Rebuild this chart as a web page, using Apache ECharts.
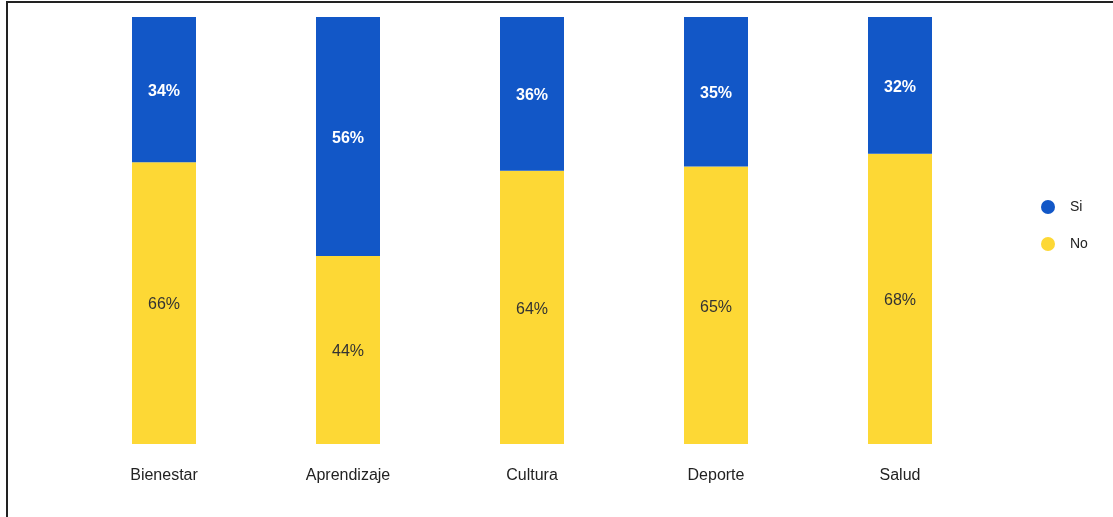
<!DOCTYPE html>
<html>
<head>
<meta charset="utf-8">
<script src="https://cdn.jsdelivr.net/npm/echarts@6/dist/echarts.min.js"></script>
<style>
    html, body { margin: 0; padding: 0; background: #fff; overflow: hidden; }
    #frame {
        position: absolute; left: 6px; top: 1px; width: 1200px; height: 600px;
        border: 2px solid #222; box-sizing: border-box;
    }
    #chart { position: absolute; left: 0; top: 0; width: 1113px; height: 517px; }
</style>
</head>
<body>
<div id="frame"></div>
<div id="chart"></div>
<script>
// datos
const categorias = ['Bienestar', 'Aprendizaje', 'Cultura', 'Deporte', 'Salud'];
const si = [34, 56, 36, 35, 32];
const no = [66, 44, 64, 65, 68];

const myChart = echarts.init(document.getElementById('chart'));
const azul = '#1257c7';
const amarillo = '#fdd835';
const option = {
    color: [amarillo, azul],
    animation: false,
    legend: {
        orient: 'vertical',
        left: 1036,
        top: 195,
        icon: 'circle',
        itemWidth: 14,
        itemHeight: 14,
        itemGap: 23,
        data: [
            { name: 'Si', itemStyle: { color: azul } },
            { name: 'No', itemStyle: { color: amarillo } }
        ],
        textStyle: { fontSize: 14, color: '#222', fontFamily: 'Liberation Sans', padding: [0, 0, 0, 10] }
    },
    grid: { left: 72, right: 121, top: 17, bottom: 73 },
    xAxis: {
        type: 'category',
        data: categorias,
        axisLine: { show: false },
        axisTick: { show: false },
        axisLabel: { fontSize: 16, color: '#222', margin: 24, fontFamily: 'Liberation Sans' }
    },
    yAxis: {
        type: 'value',
        min: 0,
        max: 100,
        show: false
    },
    series: [
        {
            name: 'No',
            type: 'bar',
            stack: 'total',
            barWidth: 64,
            data: no,
            label: {
                show: true,
                position: 'inside',
                offset: [0, 2],
                formatter: '{c}%',
                fontSize: 16,
                color: '#333',
                fontFamily: 'Liberation Sans'
            }
        },
        {
            name: 'Si',
            type: 'bar',
            stack: 'total',
            barWidth: 64,
            data: si,
            label: {
                show: true,
                position: 'inside',
                offset: [0, 2],
                formatter: '{c}%',
                fontSize: 16,
                fontWeight: 'bold',
                color: '#fff',
                fontFamily: 'Liberation Sans'
            }
        }
    ]
};
myChart.setOption(option);
</script>
</body>
</html>
